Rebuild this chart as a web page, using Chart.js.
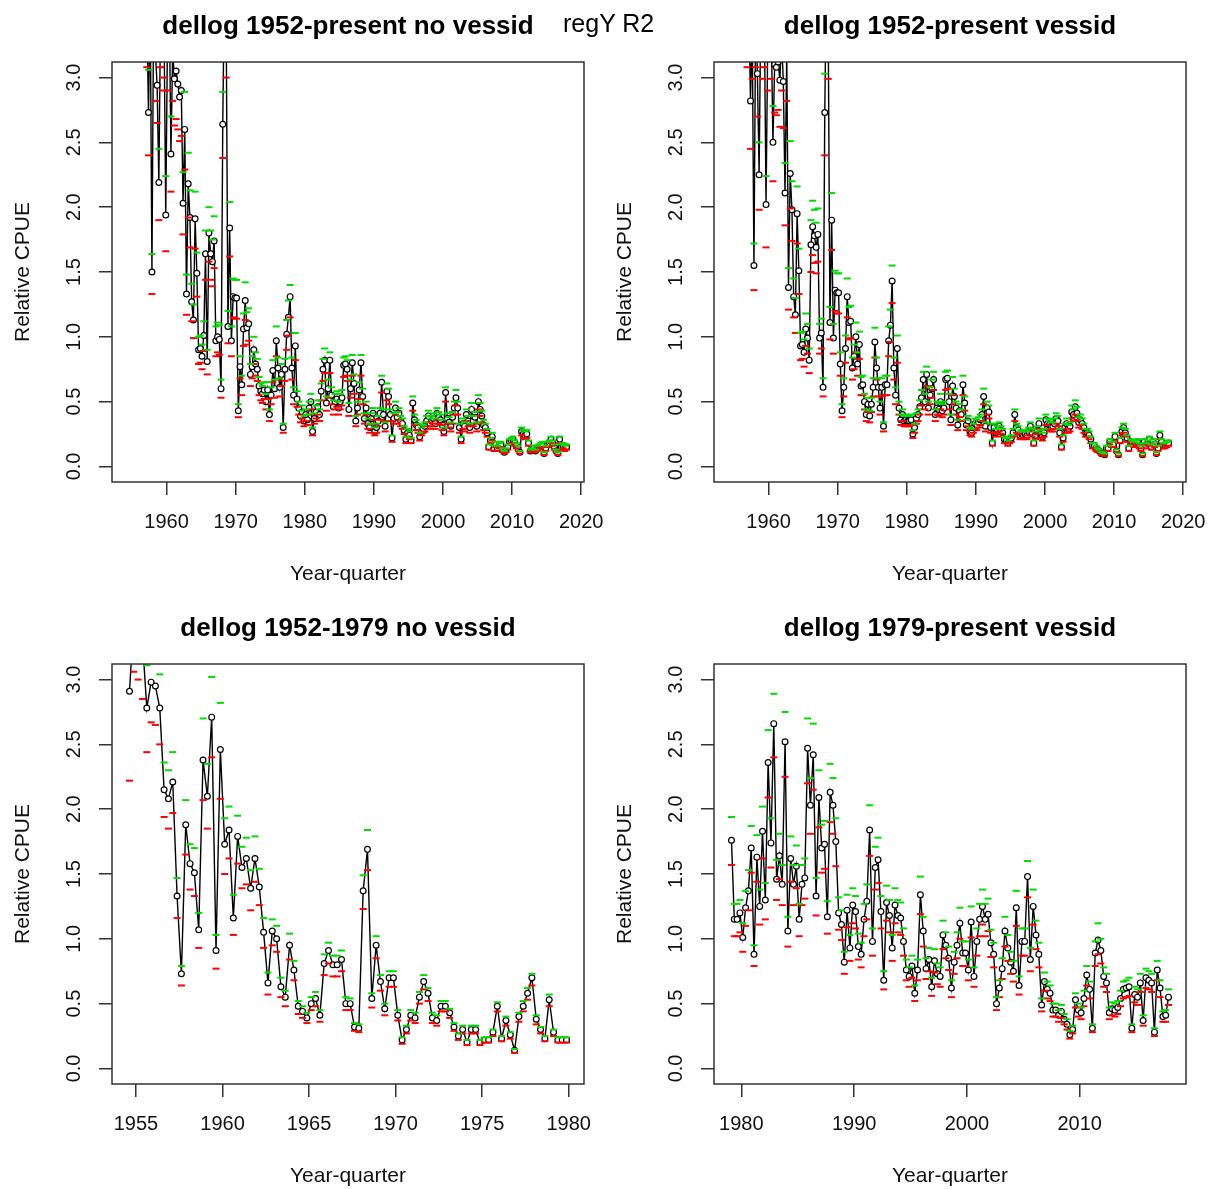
<!DOCTYPE html>
<html>
<head>
<meta charset="utf-8">
<script src="https://cdn.jsdelivr.net/npm/chart.js@4.4.1/dist/chart.umd.min.js"></script>
<style>
  html, body { margin: 0; padding: 0; background: #fff; }
  #page { position: relative; width: 1208px; height: 1189px; overflow: hidden; background: #fff; }
  .panel { position: absolute; width: 604px; height: 587px; }
  #outer-title {
    position: absolute; left: 563px; top: 9px; line-height: 25px;
    font: 25px "Liberation Sans", Arial, sans-serif; color: #000; white-space: nowrap;
  }
</style>
</head>
<body>
<div id="page">
  <div class="panel" style="left:0;top:0"><canvas id="p1" width="604" height="587"></canvas></div>
  <div class="panel" style="left:602px;top:0"><canvas id="p2" width="604" height="587"></canvas></div>
  <div class="panel" style="left:0;top:602px"><canvas id="p3" width="604" height="587"></canvas></div>
  <div class="panel" style="left:602px;top:602px"><canvas id="p4" width="604" height="587"></canvas></div>
  <div id="outer-title">regY R2</div>
</div>
<script>
// quarterly series, x = year + (quarter - 0.5) / 4
const TICKS_Y = [0, 0.5, 1, 1.5, 2, 2.5, 3];
const TICKS_X_FULL = [1960, 1970, 1980, 1990, 2000, 2010, 2020];
const TICKS_X_EARLY = [1955, 1960, 1965, 1970, 1975, 1980];
const TICKS_X_LATE = [1980, 1990, 2000, 2010];

// panel 1: dellog 1952-present no vessid (starts 1954 Q3)
const P1_START = 1954.625;
const P1_CPUE = [
  4.5, 4.0,
  4.2, 3.9, 4.4, 4.0,   3.8, 4.1, 3.6, 3.9,   3.5, 2.73, 3.6, 1.50,   3.6, 3.2, 2.94, 2.19,   3.5, 3.3, 3.4, 1.94,
  3.3, 3.6, 2.41, 3.2,  2.99, 3.05, 2.95, 2.85,  2.9, 2.03, 2.6, 1.33,  2.18, 1.92, 1.27, 1.13,  1.91, 1.49, 0.90, 0.91,
  0.85, 1.01, 1.64, 0.81,  1.80, 1.64, 1.58, 1.74,  0.97, 1.00, 0.98, 0.60,  2.64, 3.8, 3.4, 1.08,  1.84, 0.97, 1.31, 1.30,
  1.30, 0.43, 0.77, 0.63,  1.06, 1.28, 1.07, 1.10,  0.71, 0.77, 0.90, 0.79,  0.75, 0.62, 0.58, 0.56,  0.59, 0.50, 0.59, 0.40,
  0.55, 0.74, 0.60, 0.97,  0.76, 0.61, 0.71, 0.30,  0.75, 1.02, 1.15, 1.31,  0.76, 0.55, 0.93, 0.52,  0.45, 0.39, 0.42, 0.35,
  0.40, 0.36, 0.45, 0.50,  0.27, 0.37, 0.42, 0.46,  0.40, 0.58, 0.75, 0.82,  0.49, 0.60, 0.82, 0.55,  0.46, 0.50, 0.52, 0.45,
  0.50, 0.53, 0.78, 0.79,  0.75, 0.44, 0.60, 0.80,  0.64, 0.35, 0.45, 0.59,  0.80, 0.54, 0.37, 0.45,  0.33, 0.30, 0.37, 0.41,
  0.27, 0.30, 0.35, 0.41,  0.65, 0.40, 0.31, 0.58,  0.54, 0.40, 0.22, 0.37,  0.45, 0.38, 0.41, 0.35,  0.33, 0.28, 0.21, 0.26,
  0.24, 0.20, 0.49, 0.36,  0.32, 0.30, 0.23, 0.27,  0.29, 0.31, 0.35, 0.39,  0.33, 0.35, 0.37, 0.33,  0.41, 0.38, 0.36, 0.32,
  0.27, 0.57, 0.37, 0.34,  0.31, 0.38, 0.45, 0.53,  0.45, 0.30, 0.21, 0.33,  0.31, 0.40, 0.35, 0.30,  0.44, 0.35, 0.38, 0.31,
  0.50, 0.44, 0.39, 0.32,  0.30, 0.26, 0.15, 0.20,  0.23, 0.14, 0.17, 0.14,  0.16, 0.17, 0.13, 0.11,  0.13, 0.15, 0.19, 0.20,
  0.21, 0.18, 0.16, 0.14,  0.11, 0.27, 0.25, 0.24,  0.25, 0.18, 0.12, 0.13,  0.14, 0.12, 0.14, 0.15,  0.16, 0.17, 0.10, 0.14,
  0.17, 0.18, 0.21, 0.18,  0.15, 0.12, 0.10, 0.21,  0.15, 0.16, 0.14, 0.15
];
const P1_LOWER = [
  3.96, 3.52,
  3.70, 3.43, 3.87, 3.52,  3.34, 3.61, 3.17, 3.43,  3.08, 2.40, 3.17, 1.33,  3.17, 2.82, 2.65, 1.90,  3.08, 2.90, 3.00, 1.66,
  2.90, 3.17, 2.12, 2.82,  2.63, 2.68, 2.60, 2.51,  2.55, 1.79, 2.29, 1.17,  1.92, 1.69, 1.12, 0.99,  1.68, 1.31, 0.79, 0.80,
  0.75, 0.89, 1.44, 0.71,  1.58, 1.44, 1.39, 1.53,  0.85, 0.88, 0.86, 0.53,  2.38, 3.34, 3.00, 0.95,  1.62, 0.85, 1.15, 1.14,
  1.14, 0.38, 0.68, 0.55,  0.93, 1.13, 0.94, 0.97,  0.62, 0.68, 0.79, 0.70,  0.66, 0.55, 0.51, 0.49,  0.52, 0.44, 0.52, 0.35,
  0.48, 0.65, 0.53, 0.85,  0.67, 0.54, 0.62, 0.26,  0.66, 0.90, 1.01, 1.15,  0.67, 0.48, 0.82, 0.46,  0.40, 0.34, 0.37, 0.31,
  0.35, 0.32, 0.40, 0.44,  0.24, 0.33, 0.37, 0.40,  0.35, 0.51, 0.66, 0.72,  0.43, 0.53, 0.72, 0.48,  0.40, 0.44, 0.46, 0.40,
  0.44, 0.47, 0.69, 0.70,  0.66, 0.39, 0.53, 0.70,  0.56, 0.31, 0.40, 0.52,  0.70, 0.48, 0.33, 0.40,  0.29, 0.26, 0.33, 0.36,
  0.24, 0.26, 0.31, 0.36,  0.57, 0.35, 0.27, 0.51,  0.48, 0.35, 0.19, 0.33,  0.40, 0.33, 0.36, 0.31,  0.29, 0.25, 0.18, 0.23,
  0.21, 0.18, 0.43, 0.32,  0.28, 0.26, 0.20, 0.24,  0.26, 0.27, 0.31, 0.34,  0.29, 0.31, 0.33, 0.29,  0.36, 0.33, 0.32, 0.28,
  0.24, 0.50, 0.33, 0.30,  0.27, 0.33, 0.40, 0.47,  0.40, 0.26, 0.18, 0.29,  0.27, 0.35, 0.31, 0.26,  0.39, 0.31, 0.33, 0.27,
  0.44, 0.39, 0.34, 0.28,  0.26, 0.23, 0.13, 0.18,  0.20, 0.12, 0.15, 0.12,  0.14, 0.15, 0.11, 0.10,  0.11, 0.13, 0.17, 0.18,
  0.18, 0.16, 0.14, 0.12,  0.10, 0.24, 0.22, 0.21,  0.22, 0.16, 0.11, 0.11,  0.12, 0.11, 0.12, 0.13,  0.14, 0.15, 0.09, 0.12,
  0.15, 0.16, 0.18, 0.16,  0.13, 0.11, 0.09, 0.18,  0.13, 0.14, 0.12, 0.13
];
const P1_UPPER = [
  5.00, 4.44,
  4.66, 4.33, 4.88, 4.44,  4.22, 4.55, 4.00, 4.33,  3.89, 3.06, 4.00, 1.64,  4.00, 3.55, 3.26, 2.45,  3.89, 3.66, 3.77, 2.24,
  3.66, 4.00, 2.70, 3.55,  3.32, 3.39, 3.27, 3.16,  3.22, 2.27, 2.89, 1.48,  2.42, 2.13, 1.41, 1.25,  2.12, 1.65, 1.00, 1.01,
  0.94, 1.12, 1.82, 0.90,  2.00, 1.82, 1.75, 1.93,  1.08, 1.11, 1.09, 0.67,  2.89, 4.22, 3.77, 1.20,  2.04, 1.08, 1.45, 1.44,
  1.44, 0.48, 0.85, 0.70,  1.18, 1.42, 1.19, 1.22,  0.79, 0.85, 1.00, 0.88,  0.83, 0.69, 0.64, 0.62,  0.65, 0.56, 0.65, 0.44,
  0.61, 0.82, 0.67, 1.08,  0.84, 0.68, 0.79, 0.33,  0.83, 1.13, 1.28, 1.40,  0.84, 0.61, 1.03, 0.58,  0.50, 0.43, 0.47, 0.39,
  0.44, 0.40, 0.50, 0.56,  0.30, 0.41, 0.47, 0.51,  0.44, 0.64, 0.83, 0.91,  0.54, 0.67, 0.88, 0.61,  0.51, 0.56, 0.58, 0.50,
  0.56, 0.59, 0.84, 0.85,  0.82, 0.49, 0.67, 0.86,  0.71, 0.39, 0.50, 0.65,  0.86, 0.60, 0.41, 0.50,  0.37, 0.33, 0.41, 0.45,
  0.30, 0.33, 0.39, 0.45,  0.70, 0.44, 0.34, 0.64,  0.60, 0.44, 0.24, 0.41,  0.50, 0.42, 0.45, 0.39,  0.37, 0.31, 0.23, 0.29,
  0.27, 0.22, 0.54, 0.40,  0.36, 0.33, 0.26, 0.30,  0.32, 0.34, 0.39, 0.43,  0.37, 0.39, 0.41, 0.37,  0.45, 0.42, 0.40, 0.36,
  0.30, 0.61, 0.41, 0.38,  0.34, 0.42, 0.50, 0.59,  0.50, 0.33, 0.23, 0.37,  0.34, 0.44, 0.39, 0.33,  0.49, 0.39, 0.42, 0.34,
  0.55, 0.49, 0.43, 0.36,  0.33, 0.29, 0.17, 0.22,  0.26, 0.16, 0.19, 0.16,  0.18, 0.19, 0.14, 0.12,  0.14, 0.17, 0.21, 0.22,
  0.23, 0.20, 0.18, 0.16,  0.12, 0.30, 0.28, 0.27,  0.28, 0.20, 0.13, 0.14,  0.16, 0.13, 0.16, 0.17,  0.18, 0.19, 0.11, 0.16,
  0.19, 0.20, 0.23, 0.20,  0.17, 0.13, 0.11, 0.23,  0.17, 0.18, 0.16, 0.17
];

// panel 2: dellog 1952-present vessid (starts 1954 Q3)
const P2_START = 1954.625;
const P2_CPUE = [
  4.5, 4.2,
  4.0, 4.3, 3.9, 4.1,   3.7, 4.0, 3.8, 3.5,   3.6, 2.82, 3.4, 1.55,   3.5, 3.03, 2.25, 3.6,   3.4, 3.5, 2.02, 3.3,
  3.6, 3.4, 2.50, 3.10,  3.08, 3.12, 2.98, 3.3,  2.97, 2.11, 3.2, 1.38,  2.26, 1.98, 1.31, 1.17,  1.95, 1.51, 0.93, 0.94,
  0.88, 1.06, 0.99, 0.82,  1.71, 1.85, 1.78, 1.69,  1.79, 0.99, 1.03, 0.61,  2.73, 3.8, 3.4, 1.11,  1.90, 0.99, 1.36, 1.34,
  1.34, 0.79, 0.43, 0.61,  0.91, 1.31, 1.11, 1.12,  0.76, 0.85, 1.00, 0.79,  0.94, 0.62, 0.63, 0.50,  0.40, 0.48, 0.39, 0.48,
  0.61, 0.96, 0.76, 0.61,  0.45, 0.61, 0.31, 0.63,  0.63, 0.97, 1.09, 1.43,  0.76, 0.55, 0.91, 0.45,  0.36, 0.40, 0.35, 0.36,
  0.35, 0.35, 0.36, 0.25,  0.30, 0.37, 0.40, 0.46,  0.53, 0.67, 0.50, 0.71,  0.45, 0.55, 0.60, 0.67,  0.40, 0.45, 0.44, 0.50,
  0.43, 0.45, 0.67, 0.68,  0.50, 0.36, 0.62, 0.54,  0.45, 0.32, 0.43, 0.40,  0.63, 0.49, 0.32, 0.35,  0.27, 0.26, 0.30, 0.33,
  0.32, 0.34, 0.36, 0.40,  0.54, 0.31, 0.45, 0.42,  0.30, 0.18, 0.30, 0.26,  0.28, 0.31, 0.28, 0.26,  0.21, 0.20, 0.18, 0.20,
  0.22, 0.26, 0.40, 0.30,  0.28, 0.24, 0.25, 0.24,  0.25, 0.24, 0.27, 0.31,  0.26, 0.18, 0.24, 0.28,  0.33, 0.25, 0.23, 0.26,
  0.36, 0.33, 0.32, 0.31,  0.31, 0.33, 0.37, 0.35,  0.26, 0.15, 0.22, 0.30,  0.33, 0.29, 0.31, 0.42,  0.40, 0.46, 0.41, 0.34,
  0.36, 0.33, 0.30, 0.26,  0.26, 0.24, 0.21, 0.16,  0.16, 0.14, 0.13, 0.12,  0.10, 0.10, 0.09, 0.14,  0.14, 0.19, 0.17, 0.17,
  0.23, 0.12, 0.09, 0.20,  0.27, 0.30, 0.26, 0.22,  0.14, 0.19, 0.18, 0.17,  0.18, 0.19, 0.16, 0.14,  0.09, 0.19, 0.16, 0.18,
  0.21, 0.15, 0.19, 0.17,  0.10, 0.14, 0.24, 0.19,  0.16, 0.16, 0.17, 0.18
];
const P2_LOWER = [
  3.96, 3.70,
  3.52, 3.78, 3.43, 3.61,  3.26, 3.52, 3.34, 3.08,  3.17, 2.45, 2.99, 1.36,  3.08, 2.70, 1.98, 3.17,  2.99, 3.08, 1.69, 2.90,
  3.17, 2.99, 2.20, 2.73,  2.71, 2.75, 2.62, 2.90,  2.61, 1.86, 2.82, 1.21,  1.99, 1.74, 1.15, 1.03,  1.72, 1.33, 0.82, 0.83,
  0.77, 0.93, 0.87, 0.72,  1.50, 1.63, 1.57, 1.49,  1.58, 0.87, 0.91, 0.54,  2.40, 3.34, 2.99, 0.98,  1.67, 0.87, 1.20, 1.18,
  1.18, 0.70, 0.38, 0.54,  0.80, 1.15, 0.98, 0.99,  0.67, 0.75, 0.88, 0.70,  0.83, 0.55, 0.55, 0.44,  0.35, 0.42, 0.34, 0.42,
  0.54, 0.84, 0.67, 0.54,  0.40, 0.54, 0.27, 0.55,  0.55, 0.85, 0.96, 1.26,  0.67, 0.48, 0.80, 0.40,  0.32, 0.35, 0.31, 0.32,
  0.31, 0.31, 0.32, 0.22,  0.26, 0.33, 0.35, 0.40,  0.47, 0.59, 0.44, 0.62,  0.40, 0.48, 0.53, 0.59,  0.35, 0.40, 0.39, 0.44,
  0.38, 0.40, 0.59, 0.60,  0.44, 0.32, 0.55, 0.48,  0.40, 0.28, 0.38, 0.35,  0.55, 0.43, 0.28, 0.31,  0.24, 0.23, 0.26, 0.29,
  0.28, 0.30, 0.32, 0.35,  0.48, 0.27, 0.40, 0.37,  0.26, 0.16, 0.26, 0.23,  0.25, 0.27, 0.25, 0.23,  0.18, 0.18, 0.16, 0.18,
  0.19, 0.23, 0.35, 0.26,  0.25, 0.21, 0.22, 0.21,  0.22, 0.21, 0.24, 0.27,  0.23, 0.16, 0.21, 0.25,  0.29, 0.22, 0.20, 0.23,
  0.32, 0.29, 0.28, 0.27,  0.27, 0.29, 0.33, 0.31,  0.23, 0.13, 0.19, 0.26,  0.29, 0.26, 0.27, 0.37,  0.35, 0.40, 0.36, 0.30,
  0.32, 0.29, 0.26, 0.23,  0.23, 0.21, 0.18, 0.14,  0.14, 0.12, 0.11, 0.11,  0.09, 0.09, 0.08, 0.12,  0.12, 0.17, 0.15, 0.15,
  0.20, 0.11, 0.08, 0.18,  0.24, 0.26, 0.23, 0.19,  0.12, 0.17, 0.16, 0.15,  0.16, 0.17, 0.14, 0.12,  0.08, 0.17, 0.14, 0.16,
  0.18, 0.13, 0.17, 0.15,  0.09, 0.12, 0.21, 0.17,  0.14, 0.14, 0.15, 0.16
];
const P2_UPPER = [
  5.00, 4.66,
  4.44, 4.77, 4.33, 4.55,  4.11, 4.44, 4.22, 3.89,  4.00, 3.13, 3.77, 1.72,  3.89, 3.36, 2.50, 4.00,  3.77, 3.89, 2.24, 3.66,
  4.00, 3.77, 2.78, 3.44,  3.42, 3.46, 3.31, 3.66,  3.30, 2.34, 3.55, 1.53,  2.51, 2.20, 1.45, 1.30,  2.16, 1.68, 1.03, 1.04,
  0.98, 1.18, 1.10, 0.91,  1.90, 2.05, 1.98, 1.88,  1.99, 1.10, 1.14, 0.68,  3.03, 4.22, 3.77, 1.23,  2.11, 1.10, 1.51, 1.49,
  1.49, 0.88, 0.48, 0.68,  1.01, 1.45, 1.23, 1.24,  0.84, 0.94, 1.11, 0.88,  1.04, 0.69, 0.70, 0.56,  0.44, 0.53, 0.43, 0.53,
  0.68, 1.07, 0.84, 0.68,  0.50, 0.68, 0.34, 0.70,  0.70, 1.08, 1.21, 1.55,  0.84, 0.61, 1.01, 0.50,  0.40, 0.44, 0.39, 0.40,
  0.39, 0.39, 0.40, 0.28,  0.33, 0.41, 0.44, 0.51,  0.59, 0.73, 0.56, 0.77,  0.50, 0.61, 0.67, 0.73,  0.44, 0.50, 0.49, 0.56,
  0.48, 0.50, 0.73, 0.74,  0.56, 0.40, 0.69, 0.60,  0.50, 0.36, 0.48, 0.44,  0.70, 0.54, 0.36, 0.39,  0.30, 0.29, 0.33, 0.37,
  0.36, 0.38, 0.40, 0.44,  0.60, 0.34, 0.50, 0.47,  0.33, 0.20, 0.33, 0.29,  0.31, 0.34, 0.31, 0.29,  0.23, 0.22, 0.20, 0.22,
  0.24, 0.29, 0.44, 0.33,  0.31, 0.27, 0.28, 0.27,  0.28, 0.27, 0.30, 0.34,  0.29, 0.20, 0.27, 0.31,  0.37, 0.28, 0.26, 0.29,
  0.40, 0.37, 0.36, 0.34,  0.34, 0.37, 0.41, 0.39,  0.29, 0.17, 0.24, 0.33,  0.37, 0.32, 0.34, 0.47,  0.44, 0.51, 0.46, 0.38,
  0.40, 0.37, 0.33, 0.29,  0.29, 0.27, 0.23, 0.18,  0.18, 0.16, 0.14, 0.13,  0.11, 0.11, 0.10, 0.16,  0.16, 0.21, 0.19, 0.19,
  0.26, 0.13, 0.10, 0.22,  0.30, 0.33, 0.29, 0.24,  0.16, 0.21, 0.20, 0.19,  0.20, 0.21, 0.18, 0.16,  0.10, 0.21, 0.18, 0.20,
  0.23, 0.17, 0.21, 0.19,  0.11, 0.16, 0.27, 0.21,  0.18, 0.18, 0.19, 0.20
];

// panel 3: dellog 1952-1979 no vessid (starts 1954 Q3)
const P3_START = 1954.625;
const P3_CPUE = [
  2.91, 3.45,
  3.5, 3.3, 2.78, 2.98,   2.95, 2.78, 2.15, 2.08,  2.21, 1.33, 0.73, 1.88,  1.58, 1.51, 1.07, 2.38,  2.10, 2.71, 0.91, 2.46,
  1.73, 1.84, 1.16, 1.79,  1.55, 1.62, 1.39, 1.62,  1.40, 1.05, 0.66, 1.06,  1.00, 0.63, 0.55, 0.95,  0.76, 0.48, 0.44, 0.39,
  0.50, 0.54, 0.41, 0.81,  0.91, 0.80, 0.80, 0.84,  0.50, 0.50, 0.32, 0.31,  1.37, 1.69, 0.54, 0.95,  0.67, 0.46, 0.70, 0.70,
  0.41, 0.22, 0.30, 0.41,  0.39, 0.55, 0.67, 0.58,  0.39, 0.37, 0.48, 0.48,  0.43, 0.32, 0.25, 0.30,  0.20, 0.30, 0.30, 0.20,
  0.22, 0.22, 0.28, 0.48,  0.23, 0.37, 0.26, 0.14,  0.40, 0.48, 0.58, 0.70,  0.38, 0.30, 0.23, 0.53,  0.28, 0.22, 0.22, 0.22
];
const P3_LOWER = [
  2.22, 3.06,
  3.00, 2.85, 2.44, 2.67,  2.65, 2.50, 1.94, 1.85,  1.97, 1.16, 0.64, 1.65,  1.38, 1.33, 0.93, 2.07,  1.85, 2.40, 0.77, 2.08,
  1.50, 1.62, 1.03, 1.58,  1.39, 1.42, 1.22, 1.44,  1.26, 0.93, 0.57, 0.95,  0.90, 0.55, 0.48, 0.84,  0.68, 0.42, 0.39, 0.35,
  0.45, 0.48, 0.36, 0.72,  0.81, 0.71, 0.71, 0.75,  0.45, 0.45, 0.29, 0.28,  1.23, 1.53, 0.47, 0.85,  0.60, 0.41, 0.63, 0.63,
  0.37, 0.19, 0.27, 0.37,  0.35, 0.50, 0.61, 0.52,  0.35, 0.33, 0.44, 0.44,  0.39, 0.29, 0.22, 0.27,  0.18, 0.27, 0.27, 0.18,
  0.20, 0.20, 0.25, 0.44,  0.21, 0.33, 0.23, 0.12,  0.36, 0.44, 0.53, 0.64,  0.34, 0.27, 0.21, 0.48,  0.25, 0.20, 0.20, 0.20
];
const P3_UPPER = [
  3.30, 3.85,
  3.90, 3.70, 3.11, 3.30,  3.25, 3.04, 2.36, 2.30,  2.44, 1.47, 0.79, 2.07,  1.73, 1.70, 1.20, 2.70,  2.35, 3.02, 1.03, 2.82,
  1.93, 2.02, 1.34, 1.95,  1.71, 1.78, 1.53, 1.79,  1.54, 1.16, 0.74, 1.15,  1.10, 0.70, 0.60, 1.04,  0.83, 0.52, 0.48, 0.43,
  0.55, 0.59, 0.45, 0.88,  0.97, 0.87, 0.87, 0.91,  0.55, 0.54, 0.35, 0.34,  1.49, 1.84, 0.58, 1.02,  0.72, 0.50, 0.75, 0.75,
  0.45, 0.24, 0.33, 0.45,  0.43, 0.59, 0.72, 0.62,  0.43, 0.41, 0.52, 0.52,  0.46, 0.35, 0.27, 0.33,  0.22, 0.33, 0.33, 0.22,
  0.24, 0.24, 0.30, 0.51,  0.25, 0.40, 0.28, 0.15,  0.43, 0.52, 0.62, 0.73,  0.41, 0.32, 0.25, 0.57,  0.30, 0.24, 0.24, 0.24
];

// panel 4: dellog 1979-present vessid (starts 1979 Q1)
const P4_START = 1979.125;
const P4_CPUE = [
  1.76, 1.15, 1.15, 1.20,  1.01, 1.24, 1.37, 1.70,  0.88, 1.63, 1.25, 1.83,  1.30, 2.36, 1.74, 2.66,  1.46, 1.64, 1.42, 2.52,
  1.06, 1.62, 1.42, 1.56,  1.15, 1.42, 1.47, 2.47,  2.03, 2.42, 1.33, 2.09,  1.70, 1.73, 1.17, 2.13,  2.03, 1.75, 1.20, 1.11,
  0.82, 1.22, 0.93, 1.26,  1.21, 0.94, 0.88, 1.15,  1.29, 1.84, 0.98, 1.55,  1.61, 1.21, 0.68, 1.28,  1.18, 0.93, 1.26, 1.18,
  1.16, 0.98, 0.76, 0.71,  0.79, 0.58, 0.76, 1.34,  1.06, 0.77, 0.84, 0.63,  0.83, 0.73, 0.71, 1.03,  0.95, 0.85, 0.62, 0.82,
  0.95, 1.12, 0.89, 0.89,  0.76, 1.13, 0.71, 0.98,  1.15, 1.25, 1.15, 1.19,  0.97, 0.88, 0.50, 0.62,  0.77, 1.06, 0.93, 0.82,
  0.75, 1.24, 0.64, 0.98,  0.98, 1.48, 0.84, 1.25,  1.03, 0.88, 0.49, 0.67,  0.61, 0.58, 0.45, 0.45,  0.41, 0.44, 0.38, 0.34,
  0.26, 0.30, 0.53, 0.45,  0.43, 0.54, 0.72, 0.61,  0.31, 0.89, 0.99, 0.91,  0.71, 0.66, 0.43, 0.46,  0.45, 0.47, 0.54, 0.61,
  0.62, 0.63, 0.31, 0.57,  0.55, 0.66, 0.37, 0.70,  0.68, 0.66, 0.28, 0.76,  0.62, 0.40, 0.41, 0.55
];
const P4_LOWER = [
  1.57, 1.02, 1.02, 1.05,  0.90, 1.10, 1.22, 1.51,  0.79, 1.44, 1.11, 1.62,  1.15, 2.09, 1.55, 2.40,  1.30, 1.46, 1.26, 2.25,
  0.94, 1.44, 1.26, 1.39,  1.02, 1.26, 1.31, 2.20,  1.81, 2.15, 1.18, 1.86,  1.51, 1.54, 1.04, 1.90,  1.81, 1.56, 1.07, 0.99,
  0.73, 1.09, 0.83, 1.12,  1.08, 0.84, 0.78, 1.02,  1.15, 1.64, 0.87, 1.38,  1.43, 1.08, 0.61, 1.14,  1.05, 0.83, 1.12, 1.05,
  1.03, 0.87, 0.68, 0.63,  0.70, 0.52, 0.68, 1.19,  0.94, 0.69, 0.75, 0.56,  0.74, 0.65, 0.63, 0.92,  0.85, 0.76, 0.55, 0.73,
  0.85, 1.00, 0.79, 0.79,  0.68, 1.01, 0.63, 0.87,  1.02, 1.11, 1.02, 1.06,  0.86, 0.78, 0.45, 0.55,  0.69, 0.94, 0.83, 0.73,
  0.67, 1.10, 0.57, 0.87,  0.87, 1.32, 0.75, 1.11,  0.92, 0.78, 0.44, 0.60,  0.54, 0.52, 0.40, 0.40,  0.36, 0.39, 0.34, 0.30,
  0.23, 0.27, 0.47, 0.40,  0.38, 0.48, 0.64, 0.54,  0.28, 0.79, 0.88, 0.81,  0.63, 0.59, 0.38, 0.41,  0.40, 0.42, 0.48, 0.54,
  0.55, 0.56, 0.28, 0.51,  0.49, 0.59, 0.33, 0.62,  0.61, 0.59, 0.25, 0.68,  0.55, 0.36, 0.36, 0.49
];
const P4_UPPER = [
  1.94, 1.27, 1.27, 1.30,  1.12, 1.37, 1.53, 1.87,  0.95, 1.80, 1.38, 2.02,  1.43, 2.61, 1.93, 2.89,  1.61, 1.81, 1.57, 2.75,
  1.17, 1.79, 1.57, 1.72,  1.27, 1.57, 1.62, 2.70,  2.24, 2.66, 1.47, 2.30,  1.88, 1.91, 1.29, 2.35,  2.24, 1.93, 1.32, 1.22,
  0.90, 1.34, 1.03, 1.39,  1.33, 1.04, 0.97, 1.27,  1.42, 2.03, 1.08, 1.71,  1.78, 1.33, 0.75, 1.41,  1.30, 1.03, 1.39, 1.30,
  1.28, 1.08, 0.84, 0.78,  0.87, 0.64, 0.84, 1.48,  1.17, 0.85, 0.93, 0.70,  0.92, 0.81, 0.78, 1.14,  1.05, 0.94, 0.68, 0.90,
  1.05, 1.24, 0.98, 0.98,  0.84, 1.25, 0.78, 1.08,  1.27, 1.38, 1.27, 1.31,  1.07, 0.97, 0.55, 0.68,  0.85, 1.17, 1.03, 0.90,
  0.83, 1.37, 0.71, 1.08,  1.08, 1.60, 0.93, 1.38,  1.14, 0.97, 0.54, 0.74,  0.67, 0.64, 0.50, 0.50,  0.45, 0.49, 0.42, 0.38,
  0.29, 0.33, 0.58, 0.50,  0.47, 0.60, 0.79, 0.67,  0.34, 0.98, 1.12, 1.00,  0.78, 0.73, 0.47, 0.51,  0.50, 0.52, 0.60, 0.67,
  0.68, 0.70, 0.34, 0.63,  0.61, 0.73, 0.41, 0.77,  0.75, 0.73, 0.31, 0.83,  0.68, 0.44, 0.45, 0.61
];

const FONT = '"Liberation Sans", Arial, sans-serif';
const AXIS_COLOR = '#333';

// R-style frame, titles and rotated y labels
const rFrame = {
  id: 'rFrame',
  afterDraw(chart, args, opts) {
    const { ctx, chartArea: a, scales: { x, y } } = chart;
    const cx = (a.left + a.right) / 2;
    ctx.save();
    ctx.strokeStyle = AXIS_COLOR;
    ctx.lineWidth = 1.5;
    ctx.strokeRect(a.left, a.top, a.right - a.left, a.bottom - a.top);

    ctx.fillStyle = '#000';
    ctx.textAlign = 'center';
    ctx.textBaseline = 'alphabetic';
    ctx.font = 'bold 26px ' + FONT;
    ctx.fillText(opts.title, cx, 34);

    ctx.fillStyle = '#111';
    ctx.font = '20px ' + FONT;
    x.ticks.forEach((t) => ctx.fillText(String(t.value), x.getPixelForValue(t.value), 528));

    ctx.font = '21px ' + FONT;
    ctx.fillText('Year-quarter', cx, 580);

    ctx.font = '20px ' + FONT;
    ctx.textBaseline = 'middle';
    y.ticks.forEach((t) => {
      ctx.save();
      ctx.translate(74, y.getPixelForValue(t.value));
      ctx.rotate(-Math.PI / 2);
      ctx.fillText(t.value.toFixed(1), 0, 0);
      ctx.restore();
    });

    ctx.font = '21px ' + FONT;
    ctx.save();
    ctx.translate(23, (a.top + a.bottom) / 2);
    ctx.rotate(-Math.PI / 2);
    ctx.fillText('Relative CPUE', 0, 0);
    ctx.restore();
    ctx.restore();
  }
};

function toPoints(start, arr) {
  return arr.map((v, i) => ({ x: start + i / 4, y: v }));
}

function makePanel(id, title, start, cpue, lower, upper, xTicks) {
  const first = start;
  const last = start + (cpue.length - 1) / 4;
  const pad = (last - first) * 0.04;
  const tickAxis = (ticks) => (scale) => { scale.ticks = ticks.map((v) => ({ value: v })); };

  return new Chart(document.getElementById(id), {
    type: 'scatter',
    data: {
      datasets: [
        {
          label: 'upper',
          data: toPoints(start, upper),
          showLine: false,
          pointStyle: 'line',
          pointRadius: 3.5,
          borderColor: '#00dd00',
          borderWidth: 2,
          order: 0,
          clip: 0
        },
        {
          label: 'lower',
          data: toPoints(start, lower),
          showLine: false,
          pointStyle: 'line',
          pointRadius: 3.5,
          borderColor: '#ff0000',
          borderWidth: 2,
          order: 1,
          clip: 0
        },
        {
          label: 'cpue',
          data: toPoints(start, cpue),
          showLine: true,
          borderColor: '#000',
          borderWidth: 1.4,
          tension: 0,
          pointRadius: 2.9,
          pointBackgroundColor: '#fff',
          pointBorderColor: '#000',
          pointBorderWidth: 1.2,
          order: 2,
          clip: 0
        }
      ]
    },
    options: {
      responsive: false,
      animation: false,
      events: [],
      devicePixelRatio: 1,
      layout: { padding: { top: 62, right: 20, left: 0, bottom: 0 } },
      plugins: {
        legend: { display: false },
        tooltip: { enabled: false },
        rFrame: { title: title }
      },
      scales: {
        x: {
          type: 'linear',
          min: first - pad,
          max: last + pad,
          afterBuildTicks: tickAxis(xTicks),
          afterFit: (s) => { s.height = 105; },
          ticks: { display: false },
          border: { display: false },
          grid: { drawOnChartArea: false, drawTicks: true, tickLength: 13, color: AXIS_COLOR, lineWidth: 1.5 }
        },
        y: {
          min: -0.12,
          max: 3.12,
          afterBuildTicks: tickAxis(TICKS_Y),
          afterFit: (s) => { s.width = 112; },
          ticks: { display: false },
          border: { display: false },
          grid: { drawOnChartArea: false, drawTicks: true, tickLength: 13, color: AXIS_COLOR, lineWidth: 1.5 }
        }
      }
    },
    plugins: [rFrame]
  });
}

makePanel('p1', 'dellog 1952-present no vessid', P1_START, P1_CPUE, P1_LOWER, P1_UPPER, TICKS_X_FULL);
makePanel('p2', 'dellog 1952-present vessid', P2_START, P2_CPUE, P2_LOWER, P2_UPPER, TICKS_X_FULL);
makePanel('p3', 'dellog 1952-1979 no vessid', P3_START, P3_CPUE, P3_LOWER, P3_UPPER, TICKS_X_EARLY);
makePanel('p4', 'dellog 1979-present vessid', P4_START, P4_CPUE, P4_LOWER, P4_UPPER, TICKS_X_LATE);
</script>
</body>
</html>
